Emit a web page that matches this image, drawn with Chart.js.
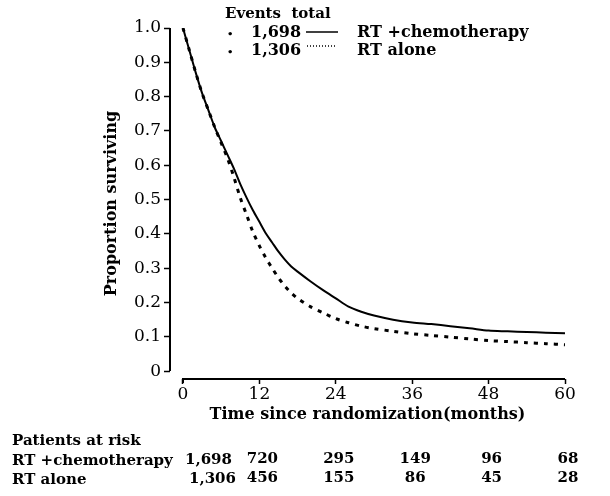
<!DOCTYPE html>
<html>
<head>
<meta charset="utf-8">
<script src="https://cdn.jsdelivr.net/npm/chart.js@4.4.1/dist/chart.umd.min.js"></script>
<style>
  html, body { margin: 0; padding: 0; background: #fff; }
  #wrap { width: 610px; height: 496px; }
</style>
</head>
<body>
<div id="wrap"><canvas id="kmChart" width="610" height="496"></canvas></div>
<script>
// Survival curves (months since randomization)
const months = [0, 1, 2, 3, 4, 5, 6, 7, 8, 9, 10, 11, 12, 13, 14, 15, 16, 17, 18, 20, 22, 24, 26, 28, 30, 33, 36, 39, 42, 45, 48, 51, 54, 57, 60];
const rtChemo = [1.0, 0.935, 0.87, 0.81, 0.76, 0.71, 0.67, 0.63, 0.59, 0.545, 0.505, 0.468, 0.435, 0.402, 0.375, 0.348, 0.325, 0.305, 0.29, 0.262, 0.236, 0.212, 0.188, 0.173, 0.162, 0.15, 0.142, 0.137, 0.131, 0.125, 0.118, 0.116, 0.114, 0.112, 0.11];
const rtAlone = [1.0, 0.935, 0.87, 0.81, 0.76, 0.71, 0.665, 0.62, 0.565, 0.505, 0.455, 0.405, 0.365, 0.33, 0.30, 0.272, 0.248, 0.228, 0.212, 0.188, 0.17, 0.153, 0.141, 0.131, 0.124, 0.116, 0.109, 0.104, 0.099, 0.094, 0.089, 0.086, 0.083, 0.08, 0.077];

const xTicks = [0, 12, 24, 36, 48, 60];
const yTicks = [0, 0.1, 0.2, 0.3, 0.4, 0.5, 0.6, 0.7, 0.8, 0.9, 1.0];

// Legend and patients-at-risk table
const seriesNames = ['RT +chemotherapy', 'RT alone'];
const eventsTotal = ['1,698', '1,306'];
const riskTimes = [0, 12, 24, 36, 48, 60];
const riskChemo = ['1,698', '720', '295', '149', '96', '68'];
const riskAlone = ['1,306', '456', '155', '86', '45', '28'];

const SERIF = '"DejaVu Serif", "Liberation Serif", serif';

function toPoints(ys) {
  return months.map((m, i) => ({ x: m, y: ys[i] }));
}

// axis lines drawn only over the data range, like the printed figure
const axisLines = {
  id: 'axisLines',
  afterDraw(chart) {
    const c = chart.ctx;
    const xs = chart.scales.x, ys = chart.scales.y;
    c.save();
    c.strokeStyle = '#000';
    c.lineWidth = 2;
    c.beginPath();
    c.moveTo(chart.chartArea.left, ys.getPixelForValue(1.0));
    c.lineTo(chart.chartArea.left, ys.getPixelForValue(0));
    c.moveTo(xs.getPixelForValue(0), chart.chartArea.bottom + 4);
    c.lineTo(xs.getPixelForValue(0), chart.chartArea.bottom);
    c.lineTo(xs.getPixelForValue(60), chart.chartArea.bottom);
    c.stroke();
    c.restore();
  }
};

const legendAndTable = {
  id: 'legendAndTable',
  afterDraw(chart) {
    const c = chart.ctx;
    const xs = chart.scales.x;
    c.save();
    c.fillStyle = '#000';
    c.textBaseline = 'middle';

    // events legend
    c.font = 'bold 15px ' + SERIF;
    c.textAlign = 'left';
    c.fillText('Events  total', 225, 14);
    const rows = [33, 51];
    rows.forEach((y, i) => {
      c.font = 'bold 10px ' + SERIF;
      c.fillText('•', 227, y + 1);
      c.font = 'bold 16px ' + SERIF;
      c.fillText(eventsTotal[i], 251, y);
      c.fillText(seriesNames[i], 357, y);
    });
    c.strokeStyle = '#000';
    c.lineWidth = 1.5;
    c.beginPath();
    c.moveTo(306, 32);
    c.lineTo(338, 32);
    c.stroke();
    c.setLineDash([1, 2]);
    c.beginPath();
    c.moveTo(307, 46);
    c.lineTo(335, 46);
    c.stroke();
    c.setLineDash([]);

    // patients at risk
    c.font = 'bold 15px ' + SERIF;
    c.fillText('Patients at risk', 12, 441);
    c.fillText(seriesNames[0], 12, 461);
    c.fillText(seriesNames[1], 12, 480);
    riskTimes.forEach((t, i) => {
      const px = xs.getPixelForValue(t);
      if (i === 0) {
        c.textAlign = 'left';
        c.fillText(riskChemo[i], px + 2, 460);
        c.fillText(riskAlone[i], px + 6, 479);
      } else {
        c.textAlign = 'center';
        c.fillText(riskChemo[i], px + 3, 459);
        c.fillText(riskAlone[i], px + 3, 478);
      }
    });
    c.restore();
  }
};

const ctx = document.getElementById('kmChart').getContext('2d');
const kmChart = new Chart(ctx, {
  type: 'line',
  data: {
    datasets: [{
      label: seriesNames[0],
      data: toPoints(rtChemo),
      borderColor: '#000',
      borderWidth: 2,
      pointRadius: 0,
      tension: 0.3,
      fill: false
    }, {
      label: seriesNames[1],
      data: toPoints(rtAlone),
      borderColor: '#000',
      borderWidth: 3,
      borderDash: [4, 6],
      borderCapStyle: 'butt',
      pointRadius: 0,
      tension: 0.3,
      fill: false
    }]
  },
  options: {
    responsive: false,
    animation: false,
    devicePixelRatio: 1,
    layout: { padding: { left: 100, right: 45, top: 28, bottom: 72 } },
    plugins: {
      legend: { display: false },
      tooltip: { enabled: false }
    },
    scales: {
      x: {
        type: 'linear',
        min: -2.04,
        max: 60,
        afterBuildTicks: (s) => { s.ticks = xTicks.map(v => ({ value: v })); },
        afterFit: (s) => { s.height = 45; },
        border: { display: false },
        grid: { drawOnChartArea: false, drawTicks: true, tickLength: 5, color: '#000', tickWidth: 1.5 },
        ticks: { color: '#000', padding: 0, font: { family: SERIF, size: 17 }, maxRotation: 0 },
        title: {
          display: true,
          text: 'Time since randomization(months)',
          color: '#000',
          padding: { top: -2, bottom: 0 },
          font: { family: SERIF, size: 16, weight: 'bold' }
        }
      },
      y: {
        min: -0.023,
        max: 1.0,
        afterBuildTicks: (s) => { s.ticks = yTicks.map(v => ({ value: v })); },
        afterFit: (s) => { s.width = 70; },
        border: { display: false },
        grid: { drawOnChartArea: false, drawTicks: true, tickLength: 6, color: '#000', tickWidth: 1.5 },
        ticks: {
          color: '#000',
          padding: 3,
          font: { family: SERIF, size: 17 },
          callback: (v) => (v === 0 ? '0' : v.toFixed(1))
        },
        title: {
          display: true,
          text: 'Proportion surviving',
          color: '#000',
          padding: { top: 2, bottom: 0 },
          font: { family: SERIF, size: 16, weight: 'bold' }
        }
      }
    }
  },
  plugins: [axisLines, legendAndTable]
});
</script>
</body>
</html>
